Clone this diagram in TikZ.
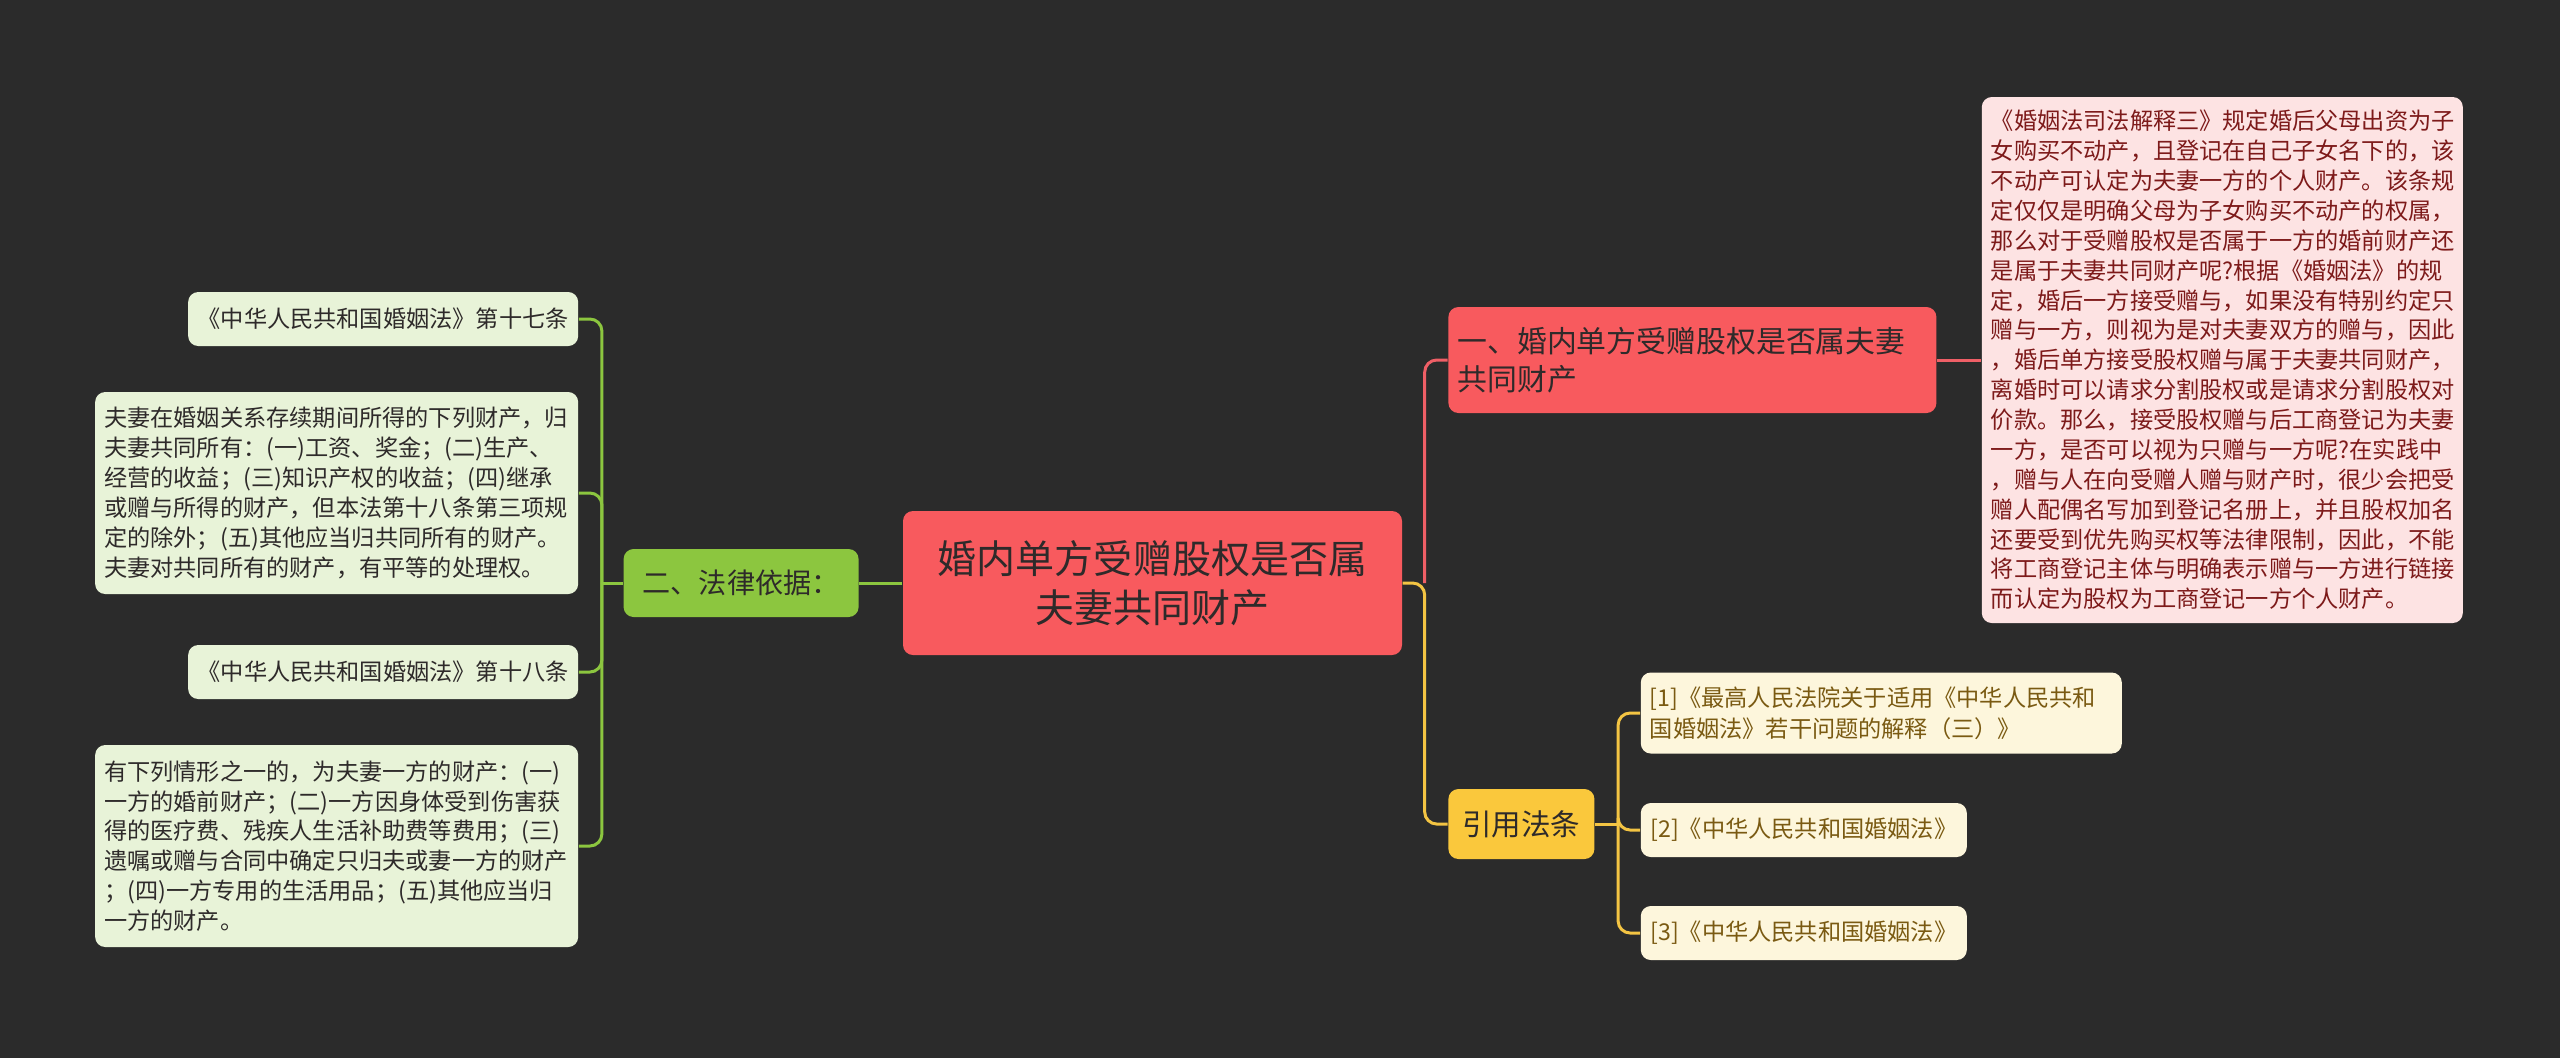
\documentclass[tikz,border=0pt]{standalone}
\usepackage{fontspec}
\setmainfont{Noto Sans CJK SC}
\usepackage{xcolor}
\usepackage{tikz}
\usetikzlibrary{positioning, calc}

\definecolor{bgdark}{HTML}{2B2B2B}
\definecolor{rootred}{HTML}{F85A5E}
\definecolor{notepink}{HTML}{FDE3E3}
\definecolor{citeyellow}{HTML}{FAC83C}
\definecolor{refcream}{HTML}{FDF6DC}
\definecolor{lawgreen}{HTML}{8CC63F}
\definecolor{leafgreen}{HTML}{E8F3D8}
\definecolor{txtdark}{HTML}{2E2A2A}
\definecolor{notetxt}{HTML}{7D1A1A}
\definecolor{reftxt}{HTML}{7A5A12}
\definecolor{linered}{HTML}{EF5F66}
\definecolor{lineyellow}{HTML}{F3C443}

\begin{document}
\begin{tikzpicture}[
  node distance=0.44cm,
  box/.style={rounded corners=0.1cm, inner xsep=0.09cm, inner ysep=0.06cm, font=\fontsize{6.6pt}{8.5pt}\selectfont},
  root/.style={box, fill=rootred, text=txtdark, align=center, minimum width=4.99cm, minimum height=1.44cm, font=\fontsize{11.1pt}{13.9pt}\selectfont},
  sect/.style={box, fill=rootred, text=txtdark, align=left, text width=4.7cm, minimum height=1.06cm, font=\fontsize{8.5pt}{11pt}\selectfont},
  note/.style={box, fill=notepink, text=notetxt, align=left, text width=4.63cm, minimum height=5.26cm},
  cite/.style={box, fill=citeyellow, text=txtdark, minimum width=1.46cm, minimum height=0.7cm, font=\fontsize{8.4pt}{10pt}\selectfont},
  ref/.style={box, fill=refcream, text=reftxt, align=left, font=\fontsize{6.6pt}{8.8pt}\selectfont},
  lawbox/.style={box, fill=lawgreen, text=txtdark, minimum width=2.35cm, minimum height=0.68cm, font=\fontsize{8pt}{10pt}\selectfont},
  leaf/.style={box, fill=leafgreen, text=txtdark, align=left},
  longleaf/.style={leaf, text width=4.65cm, minimum height=2.02cm},
  link/.style={line width=0.85pt, rounded corners=0.12cm}
]
\fill[bgdark] (0,0) rectangle (25.6,-10.58);
\useasboundingbox (0,0) rectangle (25.6,-10.58);

\node[root] (root) at (11.525,-5.83) {婚内单方受赠股权是否属\\夫妻共同财产};

\node[lawbox, left=0.43 of root] (basis) {二、法律依据：};
\node[leaf, minimum width=3.9cm, minimum height=0.54cm, left=0.44 of basis, yshift=2.64cm] (art17) {《中华人民共和国婚姻法》第十七条};
\node[longleaf, left=0.44 of basis, yshift=0.9cm] (common) {夫妻在婚姻关系存续期间所得的下列财产，归\\
夫妻共同所有：(一)工资、奖金；(二)生产、\\
经营的收益；(三)知识产权的收益；(四)继承\\
或赠与所得的财产，但本法第十八条第三项规\\
定的除外；(五)其他应当归共同所有的财产。\\
夫妻对共同所有的财产，有平等的处理权。};
\node[leaf, minimum width=3.9cm, minimum height=0.54cm, left=0.44 of basis, yshift=-0.89cm] (art18) {《中华人民共和国婚姻法》第十八条};
\node[longleaf, left=0.44 of basis, yshift=-2.63cm] (personal) {有下列情形之一的，为夫妻一方的财产：(一)\\
一方的婚前财产；(二)一方因身体受到伤害获\\
得的医疗费、残疾人生活补助费等费用；(三)\\
遗嘱或赠与合同中确定只归夫或妻一方的财产\\
；(四)一方专用的生活用品；(五)其他应当归\\
一方的财产。};

\node[sect, right=0.45 of root, yshift=2.23cm] (sec1) {一、婚内单方受赠股权是否属夫妻\\共同财产};
\node[note, right=0.44 of sec1] (note) {《婚姻法司法解释三》规定婚后父母出资为子\\
女购买不动产，且登记在自己子女名下的，该\\
不动产可认定为夫妻一方的个人财产。该条规\\
定仅仅是明确父母为子女购买不动产的权属，\\
那么对于受赠股权是否属于一方的婚前财产还\\
是属于夫妻共同财产呢?根据《婚姻法》的规\\
定，婚后一方接受赠与，如果没有特别约定只\\
赠与一方，则视为是对夫妻双方的赠与，因此\\
，婚后单方接受股权赠与属于夫妻共同财产，\\
离婚时可以请求分割股权或是请求分割股权对\\
价款。那么，接受股权赠与后工商登记为夫妻\\
一方，是否可以视为只赠与一方呢?在实践中\\
，赠与人在向受赠人赠与财产时，很少会把受\\
赠人配偶名写加到登记名册上，并且股权加名\\
还要受到优先购买权等法律限制，因此，不能\\
将工商登记主体与明确表示赠与一方进行链接\\
而认定为股权为工商登记一方个人财产。};

\node[cite, right=0.45 of root, yshift=-2.41cm] (cites) {引用法条};
\node[ref, text width=4.63cm, minimum height=0.81cm, right=0.45 of cites, yshift=1.11cm] (ref1) {[1]《最高人民法院关于适用《中华人民共和\\国婚姻法》若干问题的解释（三）》};
\node[ref, minimum width=3.26cm, minimum height=0.54cm, right=0.45 of cites, yshift=-0.06cm] (ref2) {[2]《中华人民共和国婚姻法》};
\node[ref, minimum width=3.26cm, minimum height=0.54cm, right=0.45 of cites, yshift=-1.09cm] (ref3) {[3]《中华人民共和国婚姻法》};

\draw[link, lawgreen] (root.west) -- (basis.east);
\draw[link, lawgreen] (basis.west) -- ++(-0.21,0) coordinate (ljoin);
\foreach \n in {art17, common, art18, personal}
  \draw[link, lawgreen] (ljoin) |- (\n.east);

\draw[link, lineyellow] (root.east) -- ++(0.22,0) coordinate (rjoin) |- (cites.west);
\draw[link, linered] (rjoin) |- (sec1.west);
\draw[link, linered] (sec1.east) -- (note.west);

\draw[link, lineyellow] (cites.east) -- ++(0.23,0) coordinate (cjoin);
\foreach \n in {ref1, ref2, ref3}
  \draw[link, lineyellow] (cjoin) |- (\n.west);
\end{tikzpicture}
\end{document}
